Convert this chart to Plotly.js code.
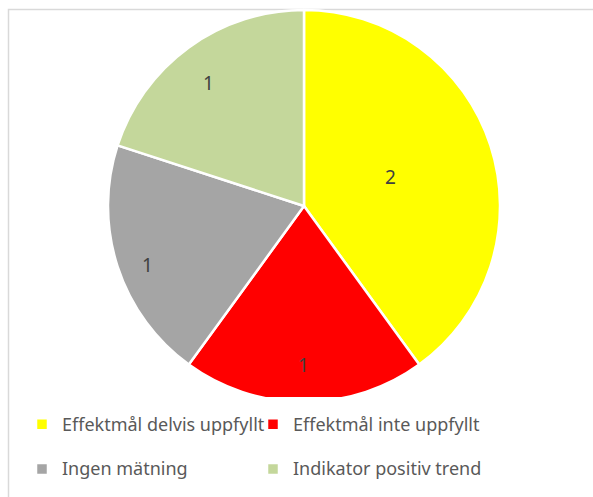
<!DOCTYPE html>
<html>
<head>
<meta charset="utf-8">
<script src="https://cdn.plot.ly/plotly-3.0.1.min.js"></script>
<style>html,body{margin:0;padding:0;background:#fff;}#chart{width:593px;height:497px;}</style>
</head>
<body>
<div id="chart"></div>
<script>
const categories = ["Effektmål delvis uppfyllt", "Effektmål inte uppfyllt", "Ingen mätning", "Indikator positiv trend"];
const values = [2, 1, 1, 1];
const colors = ["#FFFF00", "#FF0000", "#A5A5A5", "#C4D79B"];
// data label positions (paper fractions)
const labelX = [0.6712, 0.5110, 0.2361, 0.3524];
const labelY = [0.6439, 0.2354, 0.4668, 0.8632];

const W = 593, H = 497;
const cx = 304, cy = 206, r = 196;

const trace = {
  type: "pie",
  labels: categories.map(c => '<span style="font-size:18px;baseline-shift:6px">' + c + '</span>'),
  values: values,
  sort: false,
  direction: "clockwise",
  rotation: 0,
  marker: {colors: colors, line: {color: "#FFFFFF", width: 2.5}},
  textinfo: "none",
  hoverinfo: "value",
  domain: {x: [(cx - r) / W, (cx + r) / W], y: [1 - (cy + r) / H, 1 - (cy - r) / H]}
};

const annotations = values.map((v, i) => ({
  xref: "paper", yref: "paper", x: labelX[i], y: labelY[i],
  text: String(v), showarrow: false,
  font: {family: "Noto Sans, sans-serif", size: 19, color: "#404040"}
}));

const layout = {
  width: W, height: H,
  margin: {l: 0, r: 0, t: 0, b: 0},
  paper_bgcolor: "#FFFFFF",
  showlegend: true,
  legend: {
    orientation: "h",
    x: 22 / W, xanchor: "left",
    y: 1 - 397 / H, yanchor: "top",
    entrywidth: 186, entrywidthmode: "pixels",
    font: {family: "Noto Sans, sans-serif", size: 32, color: "#595959"},
    traceorder: "normal"
  },
  annotations: annotations,
  shapes: [{
    type: "rect", xref: "paper", yref: "paper",
    x0: 8.5 / W, x1: 1.2, y0: -0.2, y1: 1 - 9.5 / H,
    line: {color: "#D9D9D9", width: 1.5}, fillcolor: "rgba(0,0,0,0)", layer: "below"
  }]
};

Plotly.newPlot("chart", [trace], layout, {displayModeBar: false, staticPlot: true});
</script>
</body>
</html>
